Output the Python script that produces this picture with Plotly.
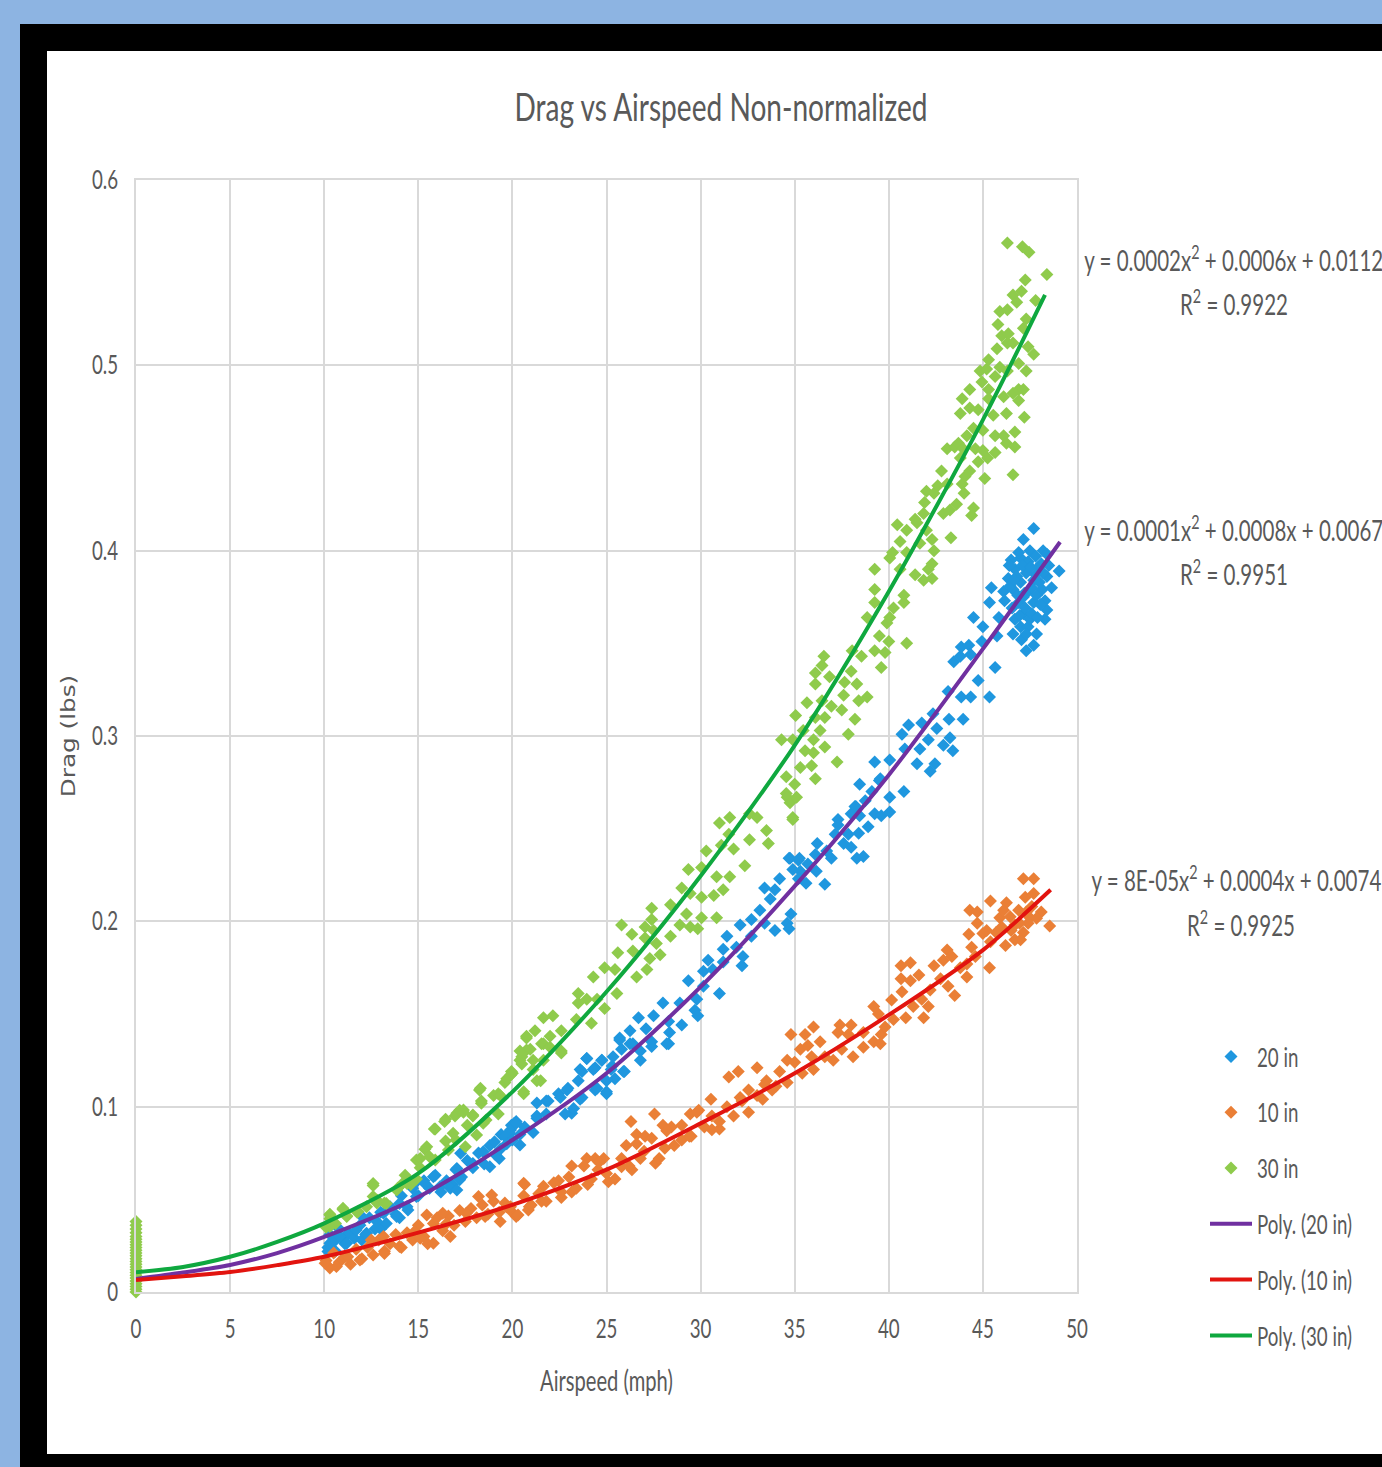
import plotly.graph_objects as go

TITLE = "Drag vs Airspeed Non-normalized"
X_TICKS = [0, 5, 10, 15, 20, 25, 30, 35, 40, 45, 50]
Y_TICKS = [0, 0.1, 0.2, 0.3, 0.4, 0.5, 0.6]
Y_TICK_TEXT = ["0", "0.1", "0.2", "0.3", "0.4", "0.5", "0.6"]

pts_20 = [
(10.2,.024),(10.3,.031),(10.5,.027),(10.6,.022),(10.8,.034),(11.0,.029),(11.1,.026),(11.3,.032),(11.6,.029),(11.9,.036),
(12.0,.028),(12.2,.031),(12.4,.040),(12.7,.034),(13.0,.043),(13.0,.034),(13.3,.037),(13.5,.046),(13.8,.042),(14.0,.040),
(14.1,.052),(14.4,.046),(14.7,.056),(15.0,.052),(15.3,.060),(15.6,.056),(15.9,.063),(16.2,.054),(16.5,.060),(16.8,.058),
(17.0,.066),(17.3,.062),(17.6,.071),(17.9,.067),(18.2,.075),(18.5,.069),(18.8,.079),(19.1,.074),(19.3,.072),(19.4,.085),
(10.3,.0263),(10.2,.0218),(10.8,.0299),(11.2,.0263),(11.7,.0335),(12.25,.0317),(12.1,.0398),(12.8,.038),(13.15,.0425),(13.85,.0407),
(14.0,.0478),(14.45,.0443),(14.9,.0515),(14.9,.0595),(15.35,.0586),(15.8,.0622),(16.15,.0568),(16.7,.056),(17.05,.055),(17.2,.0605),
(17.25,.0748),(17.05,.0667),(17.9,.0694),(18.45,.0757),(18.8,.0676),(19.05,.0811),(19.85,.0856),(20.2,.092),(20.4,.0793),(19.6,.084),
(19.9,.0874),(19.35,.077),(20.1,.091),(21.1,.086),(21.3,.0937),(21.8,.103),(22.45,.107),(22.95,.110),(23.15,.0964),(23.6,.104),
(23.6,.120),(24.4,.121),(24.4,.109),(24.75,.125),(25.3,.122),(25.0,.108),(25.45,.115),(25.95,.119),(26.4,.134),(26.8,.125),
(27.4,.1324),(28.3,.134),(25.7,.137),(23.95,.126),
(19.7,.080),(19.95,.090),(20.0,.082),(20.2,.091),(20.4,.085),(20.65,.089),(21.3,.095),(21.3,.102),(21.8,.096),(21.9,.103),
(22.55,.105),(22.8,.096),(22.9,.109),(23.25,.099),(23.5,.114),(23.7,.105),(23.7,.119),(23.95,.126),(24.3,.120),(24.5,.110),
(24.75,.125),(25.0,.107),(25.0,.114),(25.25,.120),(25.35,.127),(25.7,.136),(25.8,.131),(25.9,.119),(26.25,.141),(26.25,.134),
(26.7,.148),(26.8,.130),(27.1,.142),(27.4,.135),(27.5,.149),(28.0,.156),(28.2,.134),(28.3,.146),(28.35,.140),(28.9,.156),
(29.0,.144),(29.35,.168),(29.7,.152),(29.8,.158),(29.85,.149),(30.15,.173),(30.15,.165),(30.4,.179),(30.65,.174),(31.0,.161),
(31.2,.185),(31.2,.178),(31.4,.192),(31.9,.186),(32.1,.198),(32.2,.176),(32.25,.181),(32.7,.201),(32.7,.192),(33.15,.206),
(33.4,.218),(33.4,.199),(33.7,.212),(33.95,.217),(33.95,.195),(34.2,.223),(34.6,.199),(34.7,.196),(34.75,.234),(34.8,.204),
(34.9,.228),(35.2,.233),(34.7,.234),(35.25,.234),(35.7,.231),(35.3,.227),(36.15,.227),(36.6,.220),(35.6,.2205),(35.2,.223),
(36.1,.236),(36.2,.242),(36.7,.238),(36.95,.234),(37.15,.247),(37.3,.252),(37.6,.242),(37.85,.247),(38.0,.24),(38.0,.258),
(38.2,.262),(38.3,.234),(38.4,.2475),(38.45,.257),(38.65,.235),(38.9,.251),(39.5,.276),
(37.3,.255),(38.1,.258),(38.25,.262),(38.45,.274),(38.75,.265),(39.1,.270),(39.25,.286),(39.25,.258),
(39.55,.277),(39.6,.257),(40.05,.287),(40.05,.267),(40.05,.259),(40.7,.301),(40.8,.270),(40.85,.293),(41.05,.306),(41.5,.285),
(41.65,.293),(41.75,.307),(42.1,.298),(42.2,.281),(42.35,.312),(42.45,.285),(42.55,.304),(42.9,.295),(43.15,.324),(43.2,.309),
(43.25,.299),(43.4,.292),(43.45,.340),(43.8,.343),(43.85,.348),(43.85,.321),(43.95,.309),(44.25,.349),(44.35,.344),(44.35,.321),
(44.5,.364),(44.75,.330),(44.95,.351),(45.0,.359),(45.35,.372),(45.35,.321),(45.45,.380),(45.65,.337),(45.75,.354),(45.85,.364),
(46.1,.378),(46.15,.373),(46.35,.385),(46.5,.395),(46.6,.379),(46.6,.355),(46.7,.390),(46.7,.363),(46.9,.372),(47.0,.396),
(47.0,.383),(47.0,.359),(47.05,.352),(47.15,.406),(47.15,.366),(47.3,.388),(47.3,.346),(47.4,.394),(47.4,.378),(47.4,.359),
(47.5,.400),(47.5,.363),(47.7,.412),(47.7,.384),(47.7,.372),(47.7,.349),(47.85,.355),(47.95,.391),(48.15,.379),(48.2,.400),
(48.3,.373),(48.3,.363),(48.4,.398),(48.4,.386),(48.4,.368),(48.65,.380),(49.05,.389),
(46.4,.392),(46.45,.381),(46.55,.369),(46.8,.386),(46.85,.376),(46.95,.365),(47.1,.392),(47.2,.377),(47.25,.369),(47.3,.355),
(47.55,.391),(47.6,.380),(47.6,.366),(47.8,.397),(47.8,.387),(47.85,.376),(47.9,.364),(48.0,.383),(48.05,.371),(48.1,.393),
(48.2,.388),(48.5,.392),(46.9,.399),(46.65,.384),(47.15,.375),
]

pts_10 = [
(10.1,.017),(10.3,.013),(10.5,.021),(10.8,.016),(11.1,.019),(11.4,.015),(11.7,.023),(12.0,.018),(12.3,.024),(12.6,.020),
(12.9,.028),(13.2,.022),(13.5,.026),(13.8,.031),(14.1,.024),(14.4,.032),(14.7,.028),(15.0,.036),(15.3,.030),(15.5,.026),
(15.8,.037),(16.0,.040),(16.3,.033),(16.6,.041),(16.9,.036),(17.2,.044),(17.5,.038),(17.8,.045),(18.1,.040),(18.4,.047),
(18.7,.042),(19.0,.049),(19.3,.043),(19.6,.048),(19.9,.044),
(10.05,.0155),(10.65,.0137),(11.25,.019),(11.9,.0173),(12.5,.028),(13.15,.0299),(13.2,.0208),(14.0,.0245),(14.8,.0326),(15.45,.0416),
(15.8,.0263),(15.1,.029),(16.3,.0425),(16.7,.0299),(17.55,.0425),(18.2,.0515),(18.9,.0524),(18.55,.0407),(19.35,.038),(20.2,.0407),
(20.6,.0587),(20.85,.0443),(19.7,.046),(16.5,.037),
(20.3,.0415),(19.9,.046),(20.9,.046),(20.65,.058),(21.55,.049),(21.65,.057),(22.45,.060),(22.6,.051),(23.15,.054),(23.15,.068),
(23.95,.072),(24.0,.058),(24.4,.072),(24.85,.072),(24.55,.066),(25.1,.0595),(25.45,.061),(25.8,.0676),(26.35,.066),(26.05,.079),
(26.3,.092),(26.6,.080),(27.05,.084),(26.8,.072),(27.55,.096),(27.6,.0695),(28.0,.090),(28.45,.089),(28.1,.0775),(29.0,.082),
(29.45,.096),(29.9,.098),(29.5,.084),(30.6,.0875),(31.0,.088),(30.55,.104),(31.5,.116),(32.0,.119),(33.0,.121),(31.75,.095),
(32.55,.097),(32.1,.105),(33.3,.104),(32.55,.109),(33.5,.114),(34.0,.111),
(20.6,.052),(21.0,.047),(21.4,.053),(21.8,.049),(22.2,.059),(22.6,.054),(23.0,.062),(23.4,.056),(23.8,.068),(24.2,.061),
(24.6,.070),(25.0,.064),(25.8,.072),(26.2,.068),(26.6,.085),(27.0,.076),(27.4,.083),(27.8,.072),(28.2,.087),(28.6,.079),
(29.0,.090),(29.4,.084),(29.8,.097),(30.2,.089),(30.6,.095),(31.0,.092),(31.4,.100),(32.2,.103),(33.0,.106),(33.4,.112),
(33.8,.109),(34.2,.119),(34.6,.113),
(34.8,.139),(36.0,.143),(35.55,.139),(35.3,.131),(35.7,.133),(36.35,.135),(34.6,.125),(35.0,.124),(35.9,.127),(36.6,.127),
(36.0,.120),(37.05,.125),(35.4,.118),(37.4,.144),(38.0,.144),(37.3,.140),(37.85,.139),(37.5,.131),(38.1,.127),(38.65,.132),
(39.2,.154),(39.45,.150),(38.65,.140),(39.2,.135),(39.6,.139),(39.55,.134),(39.8,.143),(40.25,.147),(40.15,.1575),(40.65,.176),
(41.15,.1777),(40.65,.169),(41.15,.168),(41.6,.171),(40.7,.162),(40.9,.148),(41.3,.154),(41.85,.148),(42.1,.154),(41.75,.158),
(42.4,.176),(43.1,.1845),(42.9,.179),(43.35,.181),(43.8,.175),(44.15,.170),(43.5,.160),(43.15,.165),(42.75,.169),(42.2,.163),
(44.15,.177),(44.3,.206),(44.7,.205),(44.7,.199),(44.25,.193),(44.4,.186),(45.0,.1935),(44.6,.181),(45.4,.211),(45.35,.175),
(45.4,.189),(45.9,.202),(46.25,.210),(46.2,.187),(46.7,.190),(46.45,.2025),(47.15,.223),(47.7,.223),(47.25,.213),(47.7,.215),
(46.9,.206),(47.5,.202),(48.1,.205),(47.15,.194),(47.4,.199),(48.55,.1975),(47.85,.2016),(46.7,.198),(46.0,.197),(46.5,.195),
(46.95,.199),(47.0,.190),(47.3,.205),(47.6,.208),(46.1,.206),(45.7,.194),(45.2,.195),
]

pts_30 = [
(0,.0),(0,.0015),(0,.003),(0,.0045),(0,.006),(0,.0075),(0,.009),(0,.0105),(0,.012),(0,.0135),(0,.015),(0,.0165),(0,.018),
(0,.0195),(0,.021),(0,.0225),(0,.024),(0,.0255),(0,.027),(0,.0285),(0,.030),(0,.032),(0,.034),(0,.036),(0,.038),
(10.1,.035),(10.3,.042),(10.3,.0395),(10.6,.037),(11.0,.0445),(11.2,.041),(11.75,.043),(12.25,.046),(12.6,.0575),(12.6,.0515),
(10.3,.0416),(11.0,.0452),(10.3,.0353),(11.2,.0407),(11.8,.0434),(12.6,.0586),(12.8,.0496),(13.3,.0478),(13.85,.055),(14.4,.0586),
(14.9,.0712),(15.45,.0784),(15.9,.0712),(15.85,.088),(16.45,.0932),(16.6,.0766),(17.4,.0982),(17.5,.0784),(17.9,.0955),(16.85,.0856),
(17.05,.0964),(18.1,.0847),(18.25,.109),(18.35,.1018),(19.25,.107),(19.9,.117),(20.4,.125),(20.6,.107),(20.75,.1306),(18.6,.0928),
(20.75,.138),(20.5,.127),(21.1,.125),(21.55,.134),(22.0,.138),(22.6,.130),(19.95,.119),(19.6,.113),(21.5,.114),
(12.8,.048),(13.2,.048),(13.9,.056),(14.2,.059),(14.3,.063),(14.6,.058),(14.9,.061),(15.1,.072),(15.1,.067),(15.35,.077),
(15.6,.073),(15.9,.088),(16.4,.092),(16.45,.0815),(16.95,.095),(17.0,.082),(17.2,.098),(17.4,.097),(17.6,.090),(17.9,.095),
(18.3,.110),(18.35,.103),(18.45,.091),(19.0,.106),(19.25,.096),(19.35,.106),(19.7,.115),(20.0,.118),(20.4,.130),(20.5,.123),
(20.6,.108),(20.75,.137),(20.95,.131),(21.1,.120),(21.2,.141),(21.3,.114),(21.65,.148),(21.65,.134),(21.65,.125),(22.0,.132),
(22.15,.149),(22.6,.141),(22.6,.129),(23.4,.147),(23.5,.161),(23.5,.156),(23.95,.158),(24.2,.145),(24.3,.170),(24.5,.158),
(24.9,.175),(24.9,.153),(25.45,.174),(25.55,.161),(25.6,.183),(25.8,.198),(26.35,.193),(26.4,.184),(26.6,.170),(27.05,.197),
(27.05,.191),(27.15,.174),(27.3,.180),(27.4,.207),(27.4,.201),(27.5,.195),(27.65,.188),(27.85,.182),(28.4,.209),(28.4,.192),
(28.9,.198),(29.0,.218),(29.25,.204),(29.35,.228),(29.45,.215),(29.45,.197),(29.85,.196),(30.05,.229),(30.05,.213),(30.05,.202),
(30.3,.238),(30.7,.214),(30.85,.224),(30.85,.202),(31.0,.253),(31.1,.241),(31.2,.217),(31.5,.247),(31.55,.256),(31.55,.224),
(31.75,.239),(32.35,.230),(32.6,.258),(32.6,.244),(33.0,.256),(33.5,.249),(33.6,.242),(34.3,.298),(34.55,.278),(34.55,.269),
(34.6,.267),(34.75,.264),(34.9,.298),(34.9,.256),(34.9,.255),(35.0,.274),(35.05,.311),(35.1,.267),(35.3,.283),(35.45,.303),
(35.55,.292),(35.65,.318),(35.9,.284),(36.0,.298),(36.0,.291),(36.1,.334),(36.1,.328),(36.1,.310),(36.1,.277),(36.35,.303),
(36.45,.338),(36.45,.319),(36.55,.343),(36.6,.310),(36.6,.294),(36.85,.332),(36.95,.316),(37.25,.286),(37.5,.314),(37.6,.322),
(37.65,.329),(37.85,.301),(38.0,.335),(38.05,.346),(38.2,.309),(38.3,.328),(38.4,.319),(38.55,.343),(38.85,.364),(38.85,.321),
(39.25,.390),(39.25,.379),(39.25,.372),(39.25,.346),(39.5,.354),(39.6,.337),(39.8,.345),(39.9,.361),(40.0,.351),(40.05,.396),
(40.05,.364),(40.2,.399),(40.25,.369),(40.45,.414),(40.6,.405),(40.6,.390),(40.8,.376),(40.8,.372),(40.95,.411),(40.95,.399),
(40.95,.350),(41.4,.417),(41.4,.387),(41.5,.415),(41.65,.404),(41.85,.420),(41.85,.384),(41.9,.426),(42.0,.432),(42.0,.411),
(42.1,.390),(42.3,.406),(42.3,.393),(42.3,.385),(42.4,.431),(42.4,.400),(42.6,.435),(42.8,.443),(42.9,.420),(43.1,.455),
(43.1,.436),(43.25,.422),(43.3,.407),(43.5,.456),(43.6,.425),(43.7,.458),(43.8,.474),(43.8,.450),(43.9,.482),(43.9,.436),
(43.95,.455),(44.0,.431),(44.05,.440),(44.15,.462),(44.3,.487),(44.3,.477),(44.3,.443),(44.4,.419),(44.5,.466),(44.5,.423),
(44.6,.455),(44.75,.476),(44.75,.448),(44.85,.497),(44.95,.491),(45.0,.465),(45.0,.454),(45.1,.439),(45.2,.498),(45.25,.450),
(45.3,.503),(45.3,.487),(45.3,.482),(45.55,.473),(45.65,.494),(45.65,.462),(45.65,.453),(45.75,.509),(45.8,.522),(45.9,.529),
(45.9,.499),(46.0,.516),(46.1,.483),(46.1,.462),(46.25,.474),(46.25,.458),(46.3,.566),(46.3,.530),(46.3,.512),(46.3,.497),
(46.35,.517),(46.6,.538),(46.6,.512),(46.6,.485),(46.6,.441),(46.7,.464),(46.7,.456),(46.8,.534),(46.9,.501),(46.9,.487),
(46.9,.481),(47.05,.540),(47.1,.564),(47.15,.520),(47.15,.487),(47.2,.472),(47.25,.546),(47.3,.525),(47.3,.497),(47.4,.510),
(47.45,.561),(47.7,.506),(47.8,.535),(48.4,.549),
]

fit_20_x = [0, 2.5, 5, 7.5, 10, 15, 20, 25, 30, 35, 40, 45, 49.1]
fit_20_y = [.007, .0105, .0146, .021, .0297, .0513, .082, .118, .1646, .219, .279, .347, .4047]
fit_10_x = [0, 2.5, 5, 7.5, 10, 15, 20, 25, 30, 35, 40, 45, 48.6]
fit_10_y = [.0065, .0085, .0108, .0145, .019, .032, .047, .066, .091, .118, .1495, .1845, .217]
fit_30_x = [0, 2.5, 5, 7.5, 10, 15, 20, 25, 30, 35, 40, 45, 48.3]
fit_30_y = [.0107, .0135, .019, .027, .037, .064, .108, .162, .2245, .295, .378, .4706, .538]

EQUATIONS = ["y = 0.0002x<sup>2</sup> + 0.0006x + 0.0112", "y = 0.0001x<sup>2</sup> + 0.0008x + 0.0067", "y = 8E-05x<sup>2</sup> + 0.0004x + 0.0074"]
RSQUARED = ["R<sup>2</sup> = 0.9922", "R<sup>2</sup> = 0.9951", "R<sup>2</sup> = 0.9925"]

W, H = 1382, 1467
L, R, T, B = 136, 1077, 180, 1292
FONT = "Lato"
GREY = "#595959"
GRID = "#d9d9d9"

def px(v):
    return (v - L) / (R - L)

def py(v):
    return (B - v) / (B - T)

fig = go.Figure()

def scatter(name, pts, color):
    fig.add_trace(go.Scatter(x=[p[0] for p in pts], y=[p[1] for p in pts], mode="markers", name=name,
                             legendgroup=name, cliponaxis=False,
                             marker=dict(symbol="diamond", size=10, color=color, line=dict(width=0))))

def fit(name, xs, ys, color):
    fig.add_trace(go.Scatter(x=xs, y=ys, mode="lines", name=name, legendgroup=name, cliponaxis=False,
                             line=dict(color=color, width=4, shape="spline", smoothing=0.8)))

scatter("20 in", pts_20, "#1f97df")
scatter("10 in", pts_10, "#ea7f36")
scatter("30 in", pts_30, "#8fcb4c")
fit("Poly. (20 in)", fit_20_x, fit_20_y, "#7030a0")
fit("Poly. (10 in)", fit_10_x, fit_10_y, "#e2140f")
fit("Poly. (30 in)", fit_30_x, fit_30_y, "#0fa83f")

annotations = []
for eq, rs, cx1, cx2, y1, y2 in zip(EQUATIONS, RSQUARED, [1233, 1233, 1236], [1234, 1234, 1241],
                                    [258, 528, 878], [302, 572, 923]):
    annotations.append(dict(text=eq, x=px(cx1), y=py(y1), xref="paper", yref="paper", showarrow=False,
                            xanchor="center", yanchor="middle", font=dict(family=FONT, size=28.5, color=GREY)))
    annotations.append(dict(text=rs, x=px(cx2), y=py(y2), xref="paper", yref="paper", showarrow=False,
                            xanchor="center", yanchor="middle", font=dict(family=FONT, size=28.5, color=GREY)))

shapes = [
    dict(type="rect", xref="paper", yref="paper", x0=px(20), x1=px(1400), y0=py(24), y1=py(1480),
         fillcolor="#000000", line_width=0, layer="below"),
    dict(type="rect", xref="paper", yref="paper", x0=px(47), x1=px(1400), y0=py(51), y1=py(1454),
         fillcolor="#ffffff", line_width=0, layer="below"),
]

fig.update_layout(
    width=W, height=H,
    paper_bgcolor="#8db4e2", plot_bgcolor="rgba(0,0,0,0)",
    margin=dict(l=L, r=W - R, t=T, b=H - B, pad=0, autoexpand=False),
    title=dict(text=TITLE, x=721 / W, xref="container", xanchor="center",
               y=1 - 107 / H, yref="container", yanchor="middle",
               font=dict(family=FONT, size=39, color=GREY)),
    xaxis=dict(range=[0, 50], tickvals=X_TICKS, ticktext=[str(t) for t in X_TICKS],
               showgrid=True, gridcolor=GRID, gridwidth=1.5, zeroline=False,
               showline=True, linecolor=GRID, linewidth=1.5, mirror=True,
               ticks="outside", ticklen=13, tickcolor="rgba(0,0,0,0)",
               tickfont=dict(family=FONT, size=26, color=GREY),
               title=dict(text="Airspeed (mph)", standoff=28, font=dict(family=FONT, size=28, color=GREY))),
    yaxis=dict(range=[0, 0.6], tickvals=Y_TICKS, ticktext=Y_TICK_TEXT,
               showgrid=True, gridcolor=GRID, gridwidth=1.5, zeroline=False,
               showline=True, linecolor=GRID, linewidth=1.5, mirror=True,
               ticks="outside", ticklen=11, tickcolor="rgba(0,0,0,0)",
               tickfont=dict(family=FONT, size=26, color=GREY),
               title=dict(text="Drag (lbs)", standoff=1, font=dict(family="DejaVu Sans", size=19, color=GREY))),
    legend=dict(x=px(1205), y=py(1033), xref="paper", yref="paper", xanchor="left", yanchor="top",
                bgcolor="rgba(0,0,0,0)", itemwidth=42, tracegroupgap=19, traceorder="grouped",
                font=dict(family=FONT, size=26, color=GREY)),
    annotations=annotations, shapes=shapes,
)

POST = """
document.body.style.margin='0';document.body.style.overflow='hidden';
function squeeze(){
  document.querySelectorAll('svg text').forEach(function(t){
    if(t.dataset.sq)return;
    var f=t.style.fontFamily||'';
    var s=f.indexOf('Lato')>=0?0.72:(f.indexOf('DejaVu')>=0?1.3:1);
    if(s===1)return;
    var x=t.getAttribute('x')||0;
    var old=t.getAttribute('transform')||'';
    t.setAttribute('transform',old+' translate('+x+' 0) scale('+s+' 1) translate('+(-x)+' 0)');
    t.dataset.sq='1';
  });
}
squeeze();setTimeout(squeeze,50);setTimeout(squeeze,300);
"""

fig.write_html("out.html", config={"displayModeBar": False}, post_script=POST)
